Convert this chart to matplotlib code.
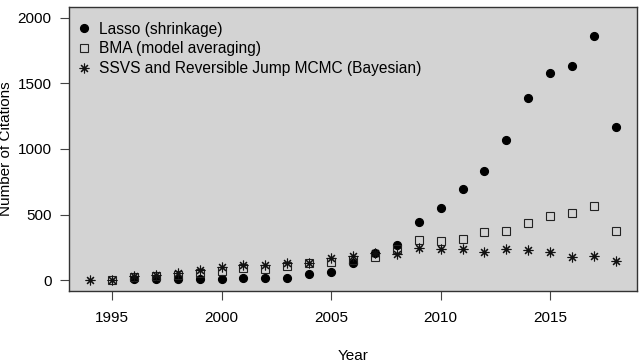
import numpy as np
import matplotlib
matplotlib.use('Agg')
from matplotlib import pyplot as plt

plt.rcParams['font.family'] = ['Liberation Sans', 'DejaVu Sans']

# Citation counts per year
years_lasso = list(range(1996, 2019))
lasso = [8, 12, 14, 12, 15, 20, 20, 20, 52, 68, 132, 212, 270, 448, 550,
         697, 833, 1068, 1386, 1578, 1629, 1858, 1164]

years_bma = list(range(1995, 2019))
bma = [3, 25, 35, 45, 58, 72, 92, 88, 108, 130, 142, 158, 180, 240, 305,
       300, 312, 372, 376, 440, 492, 515, 570, 374]

years_ssvs = list(range(1994, 2019))
ssvs = [2, 5, 35, 45, 60, 80, 105, 120, 115, 135, 135, 168, 189, 210, 205,
        245, 238, 242, 215, 242, 232, 220, 180, 184, 148]

labels = ['Lasso (shrinkage)', 'BMA (model averaging)',
          'SSVS and Reversible Jump MCMC (Bayesian)']
xticks = [1995, 2000, 2005, 2010, 2015]
yticks = [0, 500, 1000, 1500, 2000]

fig = plt.figure(figsize=(6.39, 3.63), dpi=100)
ax = fig.add_axes([69/639, 1-291/363, 568/639, 284/363])
ax.set_facecolor('#d3d3d3')

# points, drawn in the same order as the legend
ax.plot(years_lasso, lasso, linestyle='none', marker='o', markersize=5.6,
        color='black', label=labels[0])
ax.plot(years_bma, bma, linestyle='none', marker='s', markersize=5.4,
        markerfacecolor='none', markeredgecolor='#222222', markeredgewidth=0.8,
        label=labels[1])
ax.plot(years_ssvs, ssvs, linestyle='none', marker=(8, 2, 0), markersize=7,
        color='#111111', markeredgewidth=0.8, label=labels[2])

# R-style axis limits (4% padding)
ax.set_xlim(1994 - 0.96, 2018 + 0.96)
ax.set_ylim(-80, 2080)
ax.set_xticks(xticks)
ax.set_yticks(yticks)
ax.tick_params(axis='both', direction='out', length=6.5, width=0.8,
               color='#444444', labelsize=11)
ax.tick_params(axis='x', pad=8)
ax.tick_params(axis='y', pad=6)

for s in ax.spines.values():
    s.set_color('#333333')
    s.set_linewidth(1.0)

leg = ax.legend(loc='upper left', bbox_to_anchor=(0.012, 0.948), frameon=False,
                borderaxespad=0, borderpad=0, handlelength=1.0,
                handletextpad=0.5, labelspacing=0.3, fontsize=11.2)

fig.text(353/639, 1-356/363, 'Year', ha='center', va='center', fontsize=11)
fig.text(6/639, 1-149/363, 'Number of Citations', ha='center', va='center',
         rotation=90, fontsize=11)

fig.savefig('out.png', dpi=100)
